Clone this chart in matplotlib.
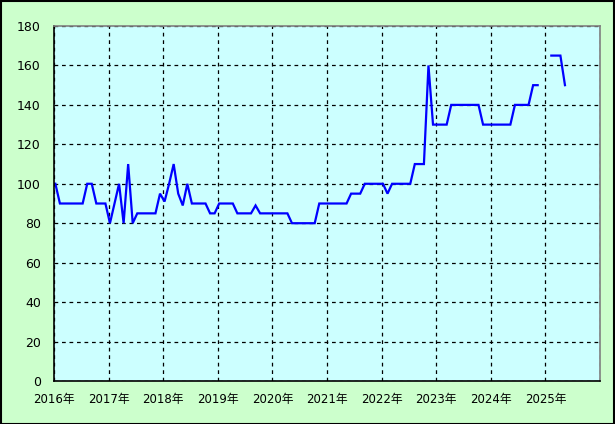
import numpy as np
import matplotlib
matplotlib.use("Agg")
import matplotlib.pyplot as plt
from matplotlib.patches import Rectangle

plt.rcParams['font.family'] = ['DejaVu Sans', 'Noto Sans CJK JP']

# monthly values starting Jan 2016 (None = no data)
values = [
    100, 90, 90, 90, 90, 90, 90, 100, 100, 90, 90, 90,        # 2016
    80, 90, 100, 80, 110, 80, 85, 85, 85, 85, 85, 95,         # 2017
    91, 100, 110, 95, 89, 100, 90, 90, 90, 90, 85, 85,        # 2018
    90, 90, 90, 90, 85, 85, 85, 85, 89, 85, 85, 85,           # 2019
    85, 85, 85, 85, 80, 80, 80, 80, 80, 80, 90, 90,           # 2020
    90, 90, 90, 90, 90, 95, 95, 95, 100, 100, 100, 100,       # 2021
    100, 95, 100, 100, 100, 100, 100, 110, 110, 110, 160, 130,  # 2022
    130, 130, 130, 140, 140, 140, 140, 140, 140, 140, 130, 130,  # 2023
    130, 130, 130, 130, 130, 140, 140, 140, 140, 150, 150, None,  # 2024
    None, 165, 165, 165, 150,                                 # 2025
]
years = list(range(2016, 2026))
year_labels = [f"{y}年" for y in years]

y = np.array([np.nan if v is None else v for v in values], dtype=float)
# each monthly reading sits a little after the start of its month
x = 2016 + (np.arange(len(y)) + 0.3) / 12.0

fig = plt.figure(figsize=(6.15, 4.24), dpi=100, facecolor='#CCFFCC')
ax = fig.add_axes([54 / 615, 1 - 381 / 424, 546 / 615, 355 / 424])
ax.set_facecolor('#CCFFFF')

ax.plot(x, y, color='#0000FF', linewidth=1.6, solid_joinstyle='miter')

ax.set_xlim(2016, 2026)
ax.set_ylim(0, 180)
ax.set_xticks(years + [2026])
ax.set_xticklabels(year_labels + [''])
ax.set_yticks(range(0, 181, 20))
ax.tick_params(length=0, colors='black')
ax.tick_params(axis='x', pad=9, labelsize=8.5)
ax.tick_params(axis='y', pad=9.5, labelsize=9)

ax.grid(True, color='black', linestyle=(0, (3, 3)), linewidth=0.9)
ax.set_axisbelow(True)

for side in ['left', 'bottom']:
    ax.spines[side].set_color('black')
    ax.spines[side].set_linewidth(1.2)
for side in ['top', 'right']:
    ax.spines[side].set_color('#808080')
    ax.spines[side].set_linewidth(1.2)

# outer frame of the chart
fig.patches.append(Rectangle((0.001, 0.001), 0.997, 0.997, transform=fig.transFigure,
                             fill=False, edgecolor='black', linewidth=1.5))

fig.savefig('out.png', dpi=100, facecolor=fig.get_facecolor())
